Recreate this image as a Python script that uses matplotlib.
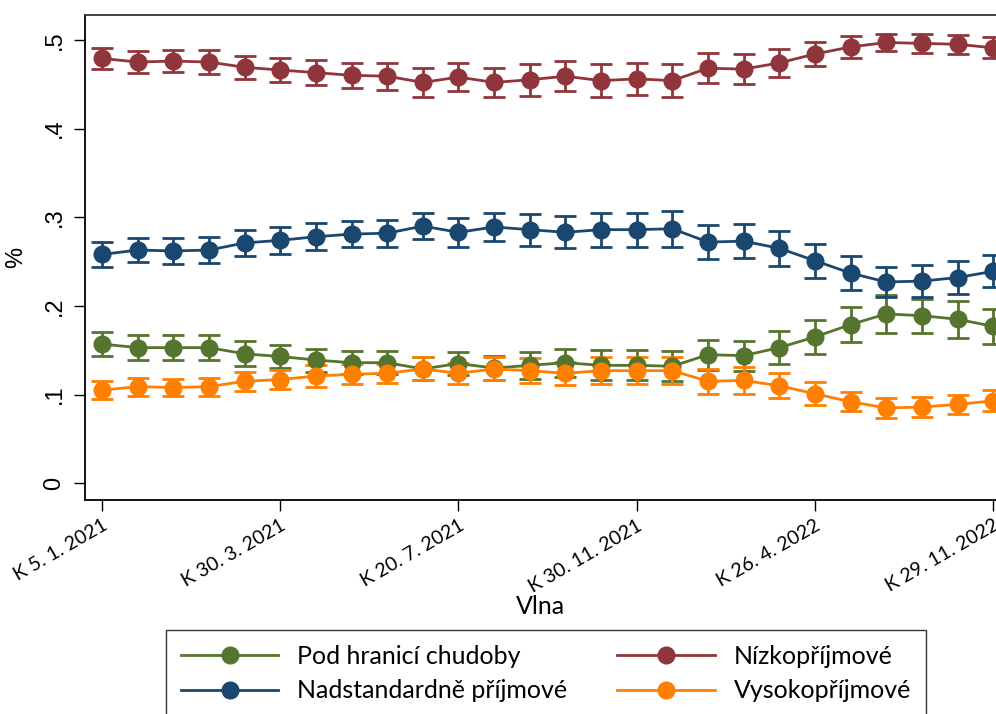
import numpy as np
import matplotlib
matplotlib.use("Agg")
import matplotlib.pyplot as plt
from matplotlib.lines import Line2D

# Survey waves (26) and shares per income group, with CI half-widths
waves = np.arange(26)
tick_pos = [0, 5, 10, 15, 20, 25]
tick_labels = ["K 5. 1. 2021", "K 30. 3. 2021", "K 20. 7. 2021",
               "K 30. 11. 2021", "K 26. 4. 2022", "K 29. 11. 2022"]
y_ticks = [0, 0.1, 0.2, 0.3, 0.4, 0.5]
y_tick_labels = ["0", ".1", ".2", ".3", ".4", ".5"]

pod_hranici = [0.157, 0.153, 0.153, 0.153, 0.146, 0.143, 0.139, 0.136, 0.136, 0.129,
               0.135, 0.130, 0.133, 0.136, 0.133, 0.133, 0.132, 0.145, 0.144, 0.153,
               0.165, 0.179, 0.191, 0.189, 0.185, 0.177]
pod_hranici_err = [0.014, 0.014, 0.014, 0.014, 0.014, 0.013, 0.013, 0.013, 0.013, 0.013,
                   0.013, 0.013, 0.015, 0.016, 0.017, 0.017, 0.017, 0.017, 0.017, 0.019,
                   0.019, 0.020, 0.021, 0.019, 0.021, 0.020]

nizko = [0.479, 0.475, 0.476, 0.475, 0.469, 0.466, 0.463, 0.460, 0.459, 0.452,
         0.458, 0.452, 0.455, 0.459, 0.454, 0.456, 0.454, 0.468, 0.467, 0.474,
         0.484, 0.492, 0.497, 0.496, 0.495, 0.491]
nizko_err = [0.012, 0.012, 0.012, 0.013, 0.013, 0.014, 0.014, 0.014, 0.015, 0.016,
             0.016, 0.016, 0.018, 0.017, 0.019, 0.018, 0.019, 0.017, 0.017, 0.016,
             0.013, 0.012, 0.010, 0.011, 0.011, 0.012]

nadstandard = [0.258, 0.263, 0.262, 0.263, 0.271, 0.274, 0.278, 0.281, 0.282, 0.290,
               0.283, 0.289, 0.286, 0.283, 0.286, 0.286, 0.287, 0.272, 0.273, 0.265,
               0.251, 0.237, 0.227, 0.228, 0.232, 0.239]
nadstandard_err = [0.014, 0.014, 0.015, 0.015, 0.015, 0.015, 0.015, 0.015, 0.015, 0.015,
                   0.016, 0.016, 0.018, 0.018, 0.019, 0.019, 0.020, 0.019, 0.019, 0.020,
                   0.019, 0.019, 0.017, 0.018, 0.019, 0.018]

vysoko = [0.105, 0.109, 0.108, 0.109, 0.115, 0.117, 0.121, 0.123, 0.124, 0.129,
          0.124, 0.129, 0.127, 0.124, 0.127, 0.127, 0.127, 0.115, 0.116, 0.110,
          0.101, 0.092, 0.085, 0.086, 0.089, 0.093]
vysoko_err = [0.010, 0.010, 0.010, 0.010, 0.011, 0.011, 0.012, 0.011, 0.011, 0.013,
              0.012, 0.013, 0.014, 0.013, 0.015, 0.015, 0.015, 0.014, 0.015, 0.014,
              0.013, 0.011, 0.011, 0.011, 0.011, 0.012]

series = [
    ("Pod hranicí chudoby", pod_hranici, pod_hranici_err, "#55752f"),
    ("Nadstandardně příjmové", nadstandard, nadstandard_err, "#1a476f"),
    ("Nízkopříjmové", nizko, nizko_err, "#90353b"),
    ("Vysokopříjmové", vysoko, vysoko_err, "#ff7f00"),
]

label_font = "Lato"

fig = plt.figure(figsize=(9.96, 7.14), dpi=100)
ax = fig.add_axes([85 / 996, 1 - 500 / 714, 1 - 85 / 996, 485 / 714])

handles = []
for name, vals, errs, col in series:
    ax.errorbar(waves, vals, yerr=errs, color=col, marker="o", markersize=12,
                linewidth=2, elinewidth=2, capsize=8, capthick=2, clip_on=False)
    # legend shows just line + marker
    handles.append(Line2D([], [], color=col, marker="o", markersize=12,
                          linewidth=2, label=name))

ax.set_xlim(-0.477, 25.08)
ax.set_ylim(-0.0188, 0.528)

ax.set_xticks(tick_pos)
ax.set_xticklabels(tick_labels, rotation=30, ha="right", rotation_mode="anchor",
                   fontsize=14, family=label_font)
ax.set_yticks(y_ticks)
ax.set_yticklabels(y_tick_labels, rotation=90, va="center", fontsize=17,
                   family="Liberation Sans")
ax.tick_params(axis="x", length=8, width=1, pad=4)
ax.tick_params(axis="y", length=8, width=1, pad=6)

ax.spines["right"].set_visible(False)
for s in ["left", "bottom", "top"]:
    ax.spines[s].set_linewidth(1.3)
ax.spines["top"].set_color("#333333")

ax.set_xlabel("Vlna", fontsize=18, family=label_font, labelpad=0)
ax.set_ylabel("%", fontsize=17, family="Liberation Sans", labelpad=12)

leg = fig.legend(handles=handles, loc="upper center", ncol=2,
                 bbox_to_anchor=(546 / 996, 1 - 630 / 714),
                 prop={"family": label_font, "size": 18}, frameon=True,
                 fancybox=False, edgecolor="black", handlelength=3.9,
                 columnspacing=2.0, handletextpad=0.76, borderpad=0.6,
                 labelspacing=0.45, borderaxespad=0)
leg.get_frame().set_linewidth(1.0)

fig.savefig("out.png", dpi=100)
